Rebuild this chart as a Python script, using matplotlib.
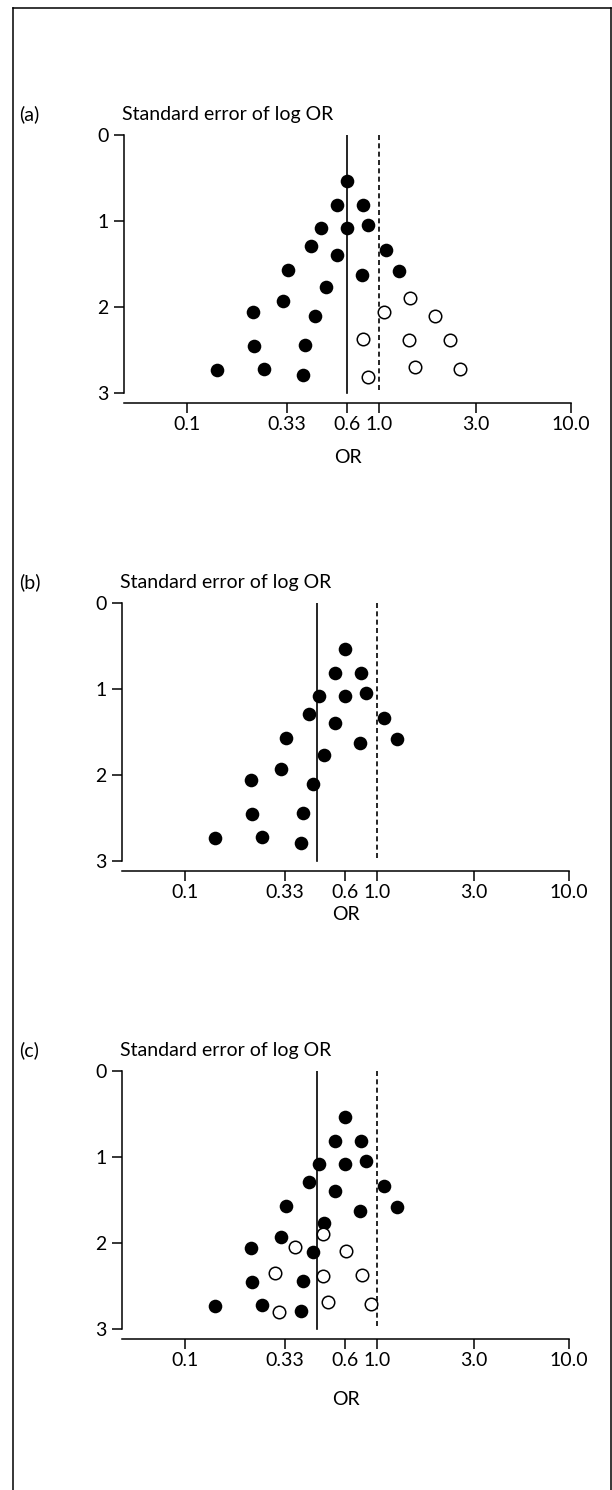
import matplotlib
matplotlib.use("Agg")
import matplotlib.pyplot as plt
from matplotlib.lines import Line2D

plt.rcParams["font.family"] = ["Lato", "DejaVu Sans"]

# observed studies (filled), same in all three panels
or_obs = [0.68, 0.60, 0.82, 0.50, 0.68, 0.87, 0.44, 1.08, 0.60, 0.335, 0.81,
          1.27, 0.53, 0.315, 0.22, 0.465, 0.222, 0.41, 0.143, 0.25, 0.40]
se_obs = [0.53, 0.81, 0.81, 1.08, 1.08, 1.05, 1.29, 1.34, 1.40, 1.57, 1.63,
          1.58, 1.77, 1.93, 2.06, 2.11, 2.45, 2.44, 2.73, 2.72, 2.79]

# (a) studies right of the line (open)
or_open_a = [1.44, 1.065, 1.95, 0.82, 1.43, 2.33, 1.53, 2.63, 0.87]
se_open_a = [1.90, 2.06, 2.10, 2.37, 2.38, 2.38, 2.70, 2.72, 2.81]

# (c) imputed studies (open)
or_open_c = [0.522, 0.374, 0.69, 0.292, 0.522, 0.836, 0.552, 0.931, 0.309]
se_open_c = [1.90, 2.05, 2.09, 2.35, 2.38, 2.37, 2.69, 2.71, 2.80]

pooled = [0.68, 0.488, 0.488]
panel_labels = ["(a)", "(b)", "(c)"]

tick_pos = [0.1, 0.33, 0.68, 1.0, 3.2, 10.0]
tick_lab = ["0.1", "0.33", "0.6", "1.0", "3.0", "10.0"]

W, H = 612, 1490
FS = 14

fig = plt.figure(figsize=(W / 100, H / 100), dpi=100)

# axes boxes in pixels: left, right, top (SE=0), bottom (x axis)
boxes = [(124, 571, 135, 403), (122, 569, 603, 871), (122, 569, 1071, 1339)]
opens = [(or_open_a, se_open_a), None, (or_open_c, se_open_c)]
or_pads = [12, 4, 16]

for k, (l, r, t, b) in enumerate(boxes):
    ax = fig.add_axes([l / W, 1 - b / H, (r - l) / W, (b - t) / H])
    ax.set_xscale("log")
    ax.set_xlim(10 ** -1.33, 10)
    ax.set_ylim(3 + 10 / 86, 0)
    for s in ("top", "right"):
        ax.spines[s].set_visible(False)
    ax.spines["left"].set_bounds(0, 3)
    ax.spines["left"].set_linewidth(1.1)
    ax.spines["bottom"].set_linewidth(1.1)
    ax.set_yticks([0, 1, 2, 3])
    ax.set_yticklabels(["0", "1", "2", "3"])
    ax.set_xticks(tick_pos)
    ax.set_xticklabels(tick_lab)
    ax.minorticks_off()
    ax.tick_params(axis="both", length=7, width=1.1, labelsize=FS, color="black")
    ax.tick_params(axis="y", pad=4)
    ax.tick_params(axis="x", pad=2)

    ax.plot([pooled[k], pooled[k]], [0, 3], color="black", lw=1.2)
    ax.plot([1.0, 1.0], [0, 3], color="black", lw=1.2, ls=(0, (3, 2)))

    ax.plot(or_obs, se_obs, "o", color="black", ms=9.8, mew=0, ls="none")
    if opens[k] is not None:
        ox, oy = opens[k]
        ax.plot(ox, oy, "o", mfc="white", mec="black", ms=9.0, mew=1.1, ls="none")

    ax.set_xlabel("OR", fontsize=FS, labelpad=or_pads[k])

    fig.text((l - 2) / W, 1 - (t - 15) / H, "Standard error of log OR",
             fontsize=FS, ha="left", va="baseline")
    fig.text(19 / W, 1 - (t - 15) / H, panel_labels[k],
             fontsize=FS, ha="left", va="baseline")

# frame round the figure (left, top, right)
lw = 1.1
fig.add_artist(Line2D([13 / W, 13 / W], [0, 1 - 8 / H], color="black", lw=lw))
fig.add_artist(Line2D([13 / W, 611 / W], [1 - 8 / H, 1 - 8 / H], color="black", lw=lw))
fig.add_artist(Line2D([611 / W, 611 / W], [1 - 8 / H, 0], color="black", lw=lw))

fig.savefig("out.png", dpi=100)
